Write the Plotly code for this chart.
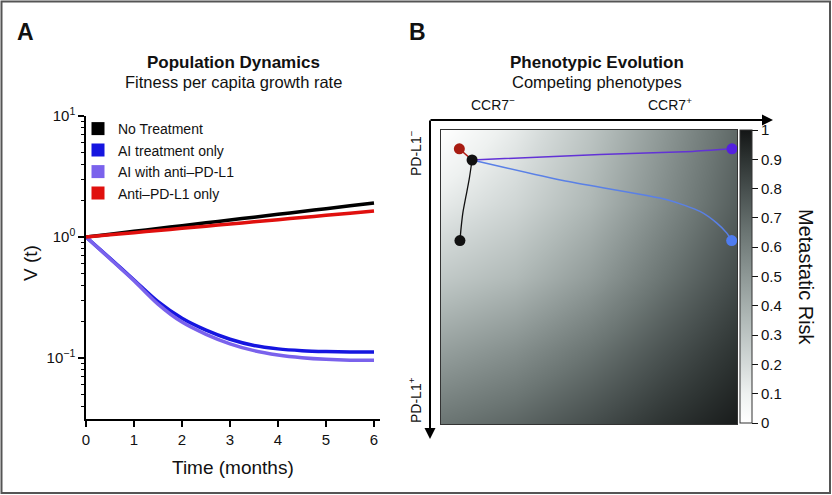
import plotly.graph_objects as go

# ---------------- data ----------------
# Panel A: population dynamics
time_months = [0, 0.5, 1, 1.5, 2, 2.5, 3, 3.5, 4, 4.5, 5, 5.5, 6]
no_treatment = [1.0, 1.055, 1.114, 1.176, 1.241, 1.31, 1.382, 1.459, 1.54, 1.625, 1.715, 1.81, 1.91]
ai_only = [1.0, 0.667, 0.441, 0.292, 0.213, 0.170, 0.143, 0.127, 0.119, 0.115, 0.113, 0.112, 0.112]
ai_anti_pdl1 = [1.0, 0.662, 0.436, 0.279, 0.198, 0.157, 0.131, 0.115, 0.106, 0.1006, 0.0975, 0.096, 0.0957]
anti_pdl1_only = [1.0, 1.042, 1.086, 1.132, 1.179, 1.229, 1.28, 1.334, 1.39, 1.449, 1.51, 1.574, 1.64]
series_names = ["No Treatment", "AI treatment only", "AI with anti\u2013PD-L1", "Anti\u2013PD-L1 only"]
series_colors = ["#000000", "#1515e0", "#7a62ec", "#e0100e"]
x_ticks = [0, 1, 2, 3, 4, 5, 6]
y_tickvals = [0.1, 1, 10]
y_ticktext = ["10<sup>\u22121</sup>", "10<sup>0</sup>", "10<sup>1</sup>"]
y_minor = [0.04, 0.05, 0.06, 0.07, 0.08, 0.09, 0.2, 0.3, 0.4, 0.5, 0.6, 0.7, 0.8, 0.9,
           2, 3, 4, 5, 6, 7, 8, 9]

# Panel B: phenotypic evolution (x = CCR7 fraction, y = PD-L1 fraction)
grid_x = [0, 0.25, 0.5, 0.75, 1]
grid_y = [0, 0.25, 0.5, 0.75, 1]
risk = [
    [0.00, 0.13, 0.30, 0.50, 0.70],
    [0.13, 0.22, 0.36, 0.55, 0.74],
    [0.28, 0.35, 0.48, 0.65, 0.81],
    [0.47, 0.54, 0.65, 0.78, 0.90],
    [0.65, 0.71, 0.80, 0.90, 0.98],
]
red_x = [0.062, 0.105]
red_y = [0.064, 0.102]
black_x = [0.105, 0.095, 0.084, 0.074, 0.068, 0.064]
black_y = [0.102, 0.169, 0.227, 0.281, 0.332, 0.376]
purple_x = [0.105, 0.537, 0.850, 0.983]
purple_y = [0.102, 0.083, 0.073, 0.064]
blue_x = [0.105, 0.412, 0.764, 0.875, 0.931, 0.965, 0.982]
blue_y = [0.102, 0.172, 0.237, 0.277, 0.316, 0.350, 0.376]
cbar_ticks = [0, 0.1, 0.2, 0.3, 0.4, 0.5, 0.6, 0.7, 0.8, 0.9, 1]
cbar_labels = ["0", "0.1", "0.2", "0.3", "0.4", "0.5", "0.6", "0.7", "0.8", "0.9", "1"]

# ---------------- figure ----------------
W, H = 832, 495
FONT = "Liberation Sans, Arial, Helvetica, sans-serif"


def px(x):
    return x / W


def py(y):
    return 1 - y / H


fig = go.Figure()

series_values = [no_treatment, ai_only, ai_anti_pdl1, anti_pdl1_only]
legend_ids = ["legend", "legend2", "legend3", "legend4"]
for name, vals, col in zip(series_names, series_values, series_colors):
    fig.add_trace(go.Scatter(
        x=time_months, y=vals, mode="lines", name=name,
        line=dict(color=col, width=3.5, shape="spline", smoothing=0.8),
        showlegend=False, xaxis="x", yaxis="y", hoverinfo="skip"))
for name, col, lg in zip(series_names, series_colors, legend_ids):
    fig.add_trace(go.Scatter(
        x=[None], y=[None], mode="markers", name=name,
        marker=dict(symbol="square", size=13, color=col),
        showlegend=True, legend=lg, xaxis="x", yaxis="y"))

# Panel B heatmap
cscale = [[0, "#ffffff"], [0.1, "#eef1f0"], [0.2, "#d4dad9"], [0.35, "#b1bab8"],
          [0.5, "#8e9896"], [0.65, "#6b7573"], [0.8, "#464e4d"], [0.9, "#2d3332"],
          [1, "#141616"]]
fig.add_trace(go.Heatmap(
    x=grid_x, y=grid_y, z=risk, zmin=0, zmax=1, zsmooth="best",
    colorscale=cscale, xaxis="x2", yaxis="y2", hoverinfo="skip",
    colorbar=dict(
        x=px(740), xanchor="left", xpad=0, y=py(130), yanchor="top", ypad=0,
        thickness=12, len=293, lenmode="pixels",
        outlinewidth=1, outlinecolor="#333333",
        tickvals=cbar_ticks, ticktext=cbar_labels, ticks="outside", ticklen=6,
        tickcolor="#111111", tickwidth=1,
        tickfont=dict(size=15, family=FONT, color="#111111"))))

fig.add_trace(go.Scatter(x=red_x, y=red_y, mode="lines", line=dict(color="#b01c14", width=1.5),
                         xaxis="x2", yaxis="y2", showlegend=False, hoverinfo="skip"))
fig.add_trace(go.Scatter(x=black_x, y=black_y, mode="lines",
                         line=dict(color="#111111", width=1.3, shape="spline", smoothing=0.6),
                         xaxis="x2", yaxis="y2", showlegend=False, hoverinfo="skip"))
fig.add_trace(go.Scatter(x=purple_x, y=purple_y, mode="lines",
                         line=dict(color="#6232d6", width=1.5, shape="spline", smoothing=0.4),
                         xaxis="x2", yaxis="y2", showlegend=False, hoverinfo="skip"))
fig.add_trace(go.Scatter(x=blue_x, y=blue_y, mode="lines",
                         line=dict(color="#5a80e6", width=1.5, shape="spline", smoothing=0.6),
                         xaxis="x2", yaxis="y2", showlegend=False, hoverinfo="skip"))
fig.add_trace(go.Scatter(
    x=[red_x[0], black_x[-1], purple_x[-1], blue_x[-1], black_x[0]],
    y=[red_y[0], black_y[-1], purple_y[-1], blue_y[-1], black_y[0]],
    mode="markers",
    marker=dict(size=11, color=["#a81c12", "#111111", "#5420e0", "#4f7cf0", "#111111"]),
    xaxis="x2", yaxis="y2", showlegend=False, hoverinfo="skip", cliponaxis=False))

# ---------------- layout ----------------
legend_rows = [129, 150.5, 172, 193.5]
layout_legends = {}
for lg, yr in zip(legend_ids, legend_rows):
    layout_legends[lg] = dict(
        x=px(78), xanchor="left", y=py(yr), yanchor="middle",
        bgcolor="rgba(0,0,0,0)", borderwidth=0,
        font=dict(size=14, family=FONT, color="#111111"))

annotations = [
    dict(text="<b>A</b>", x=px(25), y=py(32), font=dict(size=23)),
    dict(text="<b>B</b>", x=px(417), y=py(32), font=dict(size=23)),
    dict(text="<b>Population Dynamics</b>", x=px(233), y=py(62), font=dict(size=17)),
    dict(text="Fitness per capita growth rate", x=px(233), y=py(82), font=dict(size=16.5)),
    dict(text="<b>Phenotypic Evolution</b>", x=px(597), y=py(62), font=dict(size=17)),
    dict(text="Competing phenotypes", x=px(597), y=py(82), font=dict(size=16.5)),
    dict(text="V (t)", x=px(30), y=py(263), textangle=-90, font=dict(size=19)),
    dict(text="Time (months)", x=px(233), y=py(467), font=dict(size=19)),
    dict(text="CCR7<sup>\u2212</sup>", x=px(493), y=py(104), font=dict(size=14)),
    dict(text="CCR7<sup>+</sup>", x=px(670), y=py(104), font=dict(size=14)),
    dict(text="PD-L1<sup>\u2212</sup>", x=px(415), y=py(153), textangle=-90, font=dict(size=14)),
    dict(text="PD-L1<sup>+</sup>", x=px(415), y=py(400), textangle=-90, font=dict(size=14)),
    dict(text="Metastatic Risk", x=px(806), y=py(277), textangle=90, font=dict(size=20)),
]
for a in annotations:
    a.update(xref="paper", yref="paper", showarrow=False, xanchor="center", yanchor="middle")
    a["font"].update(family=FONT, color="#111111")

# axis arrows
annotations.append(dict(x=px(773), y=py(120), ax=-344, ay=0, xref="paper", yref="paper",
                        text="", showarrow=True, arrowhead=2, arrowsize=1.1, arrowwidth=2,
                        arrowcolor="#000000", font=dict(size=14, family=FONT)))
annotations.append(dict(x=px(430), y=py(439), ax=0, ay=-320, xref="paper", yref="paper",
                        text="", showarrow=True, arrowhead=2, arrowsize=1.1, arrowwidth=2,
                        arrowcolor="#000000", font=dict(size=14, family=FONT)))

fig.update_layout(
    width=W, height=H,
    margin=dict(l=0, r=0, t=0, b=0, autoexpand=False),
    paper_bgcolor="white", plot_bgcolor="white",
    font=dict(family=FONT, color="#111111", size=14),
    xaxis=dict(domain=[px(86), px(380)], range=[0, 6.125], tickvals=x_ticks,
               showline=True, linecolor="#000000", linewidth=1.5, ticks="outside",
               ticklen=6, tickwidth=1.5, tickcolor="#000000", showgrid=False, zeroline=False,
               tickfont=dict(size=15, family=FONT, color="#111111"), anchor="y"),
    yaxis=dict(domain=[py(419), py(116)], type="log", range=[-1.504, 1.0],
               tickvals=y_tickvals, ticktext=y_ticktext,
               showline=True, linecolor="#000000", linewidth=1.5, ticks="outside",
               ticklen=6, tickwidth=1.5, tickcolor="#000000", showgrid=False, zeroline=False,
               minor=dict(tickvals=y_minor, ticks="outside", ticklen=3.5, tickwidth=1,
                          tickcolor="#000000", showgrid=False),
               tickfont=dict(size=15, family=FONT, color="#111111"), anchor="x"),
    xaxis2=dict(domain=[px(441), px(737)], range=[0, 1], showticklabels=False, ticks="",
                showgrid=False, zeroline=False, showline=True, mirror=True,
                linecolor="#333333", linewidth=1, anchor="y2"),
    yaxis2=dict(domain=[py(424), py(130)], range=[1, 0], showticklabels=False, ticks="",
                showgrid=False, zeroline=False, showline=True, mirror=True,
                linecolor="#333333", linewidth=1, anchor="x2"),
    annotations=annotations,
    shapes=[dict(type="rect", xref="paper", yref="paper", x0=px(1.5), x1=px(830),
                 y0=py(493), y1=py(1.5), line=dict(color="#555555", width=2))],
    **layout_legends,
)

post = ("document.documentElement.style.margin='0';document.body.style.margin='0';"
        "document.body.style.padding='0';document.body.style.overflow='hidden';"
        "var gd=document.getElementById('{plot_id}');gd.style.position='fixed';"
        "gd.style.left='0px';gd.style.top='0px';")
fig.write_html("out.html", post_script=post, config={"displayModeBar": False})
